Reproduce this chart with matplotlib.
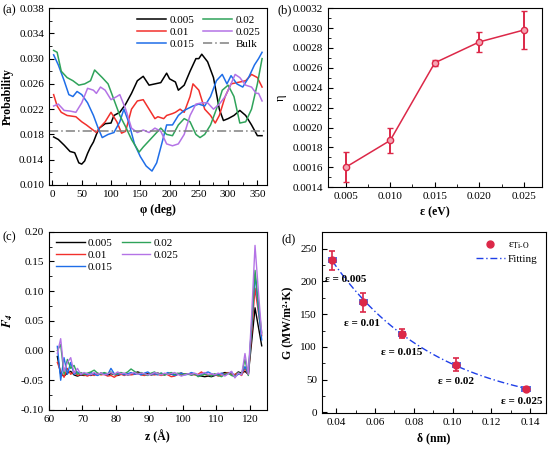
import numpy as np
import matplotlib
matplotlib.use('Agg')
import matplotlib.pyplot as plt
from matplotlib.ticker import AutoMinorLocator, MultipleLocator, FormatStrFormatter

plt.rcParams['font.family'] = ['Liberation Serif', 'DejaVu Serif']
plt.rcParams['mathtext.fontset'] = 'stix'
plt.rcParams['font.size'] = 8

# ---- (a) angular distribution ----
phi_005 = [2, 10, 20, 30, 38, 45, 50, 55, 60, 65, 70, 75, 80, 90, 100, 105, 115, 125, 135, 145,
           155, 165, 175, 185, 195, 200, 210, 215, 225, 235, 245, 250, 255, 265, 275, 280, 285, 292, 300, 310,
           320, 330, 340, 350, 358]
prob_005 = [0.0176, 0.0172, 0.0163, 0.0153, 0.0151, 0.0135, 0.0133, 0.0138, 0.0150, 0.0160,
            0.0168, 0.0180, 0.0190, 0.0197, 0.0198, 0.0210, 0.0215, 0.0228, 0.0245, 0.0265,
            0.0272, 0.0258, 0.0260, 0.0262, 0.0277, 0.0268, 0.0263, 0.0250, 0.0258, 0.0280,
            0.0300, 0.0300, 0.0307, 0.0295, 0.0270, 0.0245, 0.0220, 0.0202, 0.0205, 0.0210,
            0.0218, 0.0210, 0.0195, 0.0178, 0.0178]
phi_01 = [2, 8, 15, 25, 40, 50, 58, 65, 75, 80, 90, 100, 110, 118, 125, 135, 145, 155, 165, 175,
          180, 190, 195, 205, 210, 218, 225, 235, 240, 250, 260, 270, 278, 285, 295, 305, 320, 330, 340, 350, 358]
prob_01 = [0.0243, 0.0225, 0.0215, 0.0210, 0.0208, 0.0200, 0.0195, 0.0190, 0.0183, 0.0190,
           0.0200, 0.0215, 0.0200, 0.0182, 0.0185, 0.0220, 0.0233, 0.0235, 0.0220, 0.0205,
           0.0208, 0.0205, 0.0210, 0.0213, 0.0215, 0.0220, 0.0215, 0.0240, 0.0260, 0.0250,
           0.0220, 0.0210, 0.0198, 0.0210, 0.0240, 0.0260, 0.0263, 0.0265, 0.0275, 0.0270, 0.0255]
phi_015 = [2, 10, 20, 28, 35, 42, 50, 60, 70, 78, 85, 95, 105, 115, 122, 130, 140, 150, 160, 170,
           178, 188, 195, 205, 215, 225, 240, 250, 260, 270, 280, 290, 298, 305, 315, 325, 335, 345, 352, 358]
prob_015 = [0.0306, 0.0290, 0.0265, 0.0243, 0.0240, 0.0248, 0.0243, 0.0230, 0.0210, 0.0190,
            0.0175, 0.0180, 0.0183, 0.0200, 0.0220, 0.0200, 0.0165, 0.0145, 0.0130, 0.0122,
            0.0135, 0.0170, 0.0195, 0.0195, 0.0210, 0.0218, 0.0225, 0.0228, 0.0225, 0.0240,
            0.0265, 0.0275, 0.0260, 0.0273, 0.0260, 0.0255, 0.0270, 0.0290, 0.0300, 0.0310]
phi_02 = [2, 8, 15, 25, 35, 45, 55, 65, 72, 85, 95, 105, 115, 125, 135, 148, 155, 165, 180, 185,
          195, 205, 215, 225, 235, 245, 252, 260, 270, 280, 290, 300, 310, 320, 330, 340, 350, 358]
prob_02 = [0.0313, 0.0310, 0.0280, 0.0270, 0.0265, 0.0258, 0.0260, 0.0265, 0.0282, 0.0270,
           0.0260, 0.0235, 0.0210, 0.0192, 0.0172, 0.0152, 0.0160, 0.0170, 0.0185, 0.0190,
           0.0180, 0.0178, 0.0195, 0.0205, 0.0200, 0.0180, 0.0175, 0.0180, 0.0195, 0.0220,
           0.0250, 0.0258, 0.0240, 0.0198, 0.0200, 0.0220, 0.0260, 0.0300]
phi_025 = [2, 10, 20, 30, 40, 50, 60, 70, 75, 82, 90, 100, 110, 115, 125, 135, 145, 155, 165, 175,
           185, 195, 205, 215, 225, 235, 245, 255, 265, 275, 285, 295, 305, 312, 320, 330, 340, 348, 352, 358]
prob_025 = [0.0225, 0.0228, 0.0218, 0.0217, 0.0215, 0.0230, 0.0253, 0.0250, 0.0245, 0.0255,
            0.0250, 0.0235, 0.0240, 0.0243, 0.0220, 0.0190, 0.0183, 0.0187, 0.0183, 0.0190,
            0.0185, 0.0165, 0.0162, 0.0165, 0.0180, 0.0210, 0.0228, 0.0230, 0.0230, 0.0220,
            0.0228, 0.0240, 0.0260, 0.0275, 0.0270, 0.0258, 0.0255, 0.0245, 0.0245, 0.0233]
bulk = 0.0185
prob_ticks = [0.010, 0.014, 0.018, 0.022, 0.026, 0.030, 0.034, 0.038]

# ---- (b) eta vs epsilon ----
eps = [0.005, 0.010, 0.015, 0.020, 0.025]
eta = [0.00160, 0.00187, 0.00265, 0.00286, 0.00298]
eta_err = [0.00015, 0.00013, 0.00003, 0.00010, 0.00019]

# ---- (c) F4 profile ----
z = np.arange(62.5, 124.0, 1.0)
f4_005 = [-0.010, -0.040, -0.043, -0.038, -0.035, -0.041, -0.043, -0.041, -0.042, -0.040,
          -0.042, -0.039, -0.041, -0.038, -0.040, -0.041, -0.039, -0.040, -0.042, -0.040,
          -0.039, -0.041, -0.040, -0.038, -0.036, -0.038, -0.040, -0.039, -0.041, -0.040,
          -0.038, -0.040, -0.041, -0.039, -0.040, -0.041, -0.039, -0.038, -0.040, -0.039,
          -0.041, -0.040, -0.042, -0.043, -0.044, -0.043, -0.044, -0.042, -0.040, -0.039,
          -0.037, -0.038, -0.040, -0.041, -0.036, -0.038, -0.035, -0.040, 0.015, 0.072,
          0.040, 0.008]
f4_01 = [-0.020, -0.035, -0.045, -0.030, -0.040, -0.035, -0.042, -0.040, -0.041, -0.043,
         -0.040, -0.042, -0.038, -0.041, -0.040, -0.043, -0.042, -0.045, -0.041, -0.040,
         -0.042, -0.039, -0.041, -0.040, -0.038, -0.041, -0.042, -0.040, -0.039, -0.041,
         -0.040, -0.042, -0.039, -0.041, -0.044, -0.043, -0.040, -0.041, -0.039, -0.040,
         -0.038, -0.041, -0.040, -0.036, -0.040, -0.042, -0.041, -0.040, -0.043, -0.041,
         -0.039, -0.037, -0.041, -0.040, -0.038, -0.042, -0.030, -0.041, 0.030, 0.105,
         0.065, 0.025]
f4_015 = [0.007, -0.050, -0.012, -0.040, -0.020, -0.040, -0.036, -0.040, -0.038, -0.041,
          -0.037, -0.040, -0.042, -0.039, -0.038, -0.041, -0.030, -0.039, -0.040, -0.038,
          -0.041, -0.039, -0.037, -0.040, -0.039, -0.041, -0.038, -0.036, -0.040, -0.039,
          -0.041, -0.038, -0.040, -0.037, -0.039, -0.042, -0.040, -0.038, -0.041, -0.040,
          -0.037, -0.039, -0.041, -0.040, -0.038, -0.036, -0.039, -0.041, -0.040, -0.038,
          -0.041, -0.039, -0.036, -0.044, -0.040, -0.039, -0.027, -0.040, 0.040, 0.128,
          0.070, 0.018]
f4_02 = [0.000, 0.010, -0.040, -0.015, -0.030, -0.025, -0.040, -0.037, -0.040, -0.038,
         -0.036, -0.033, -0.038, -0.040, -0.037, -0.039, -0.036, -0.041, -0.038, -0.037,
         -0.039, -0.036, -0.031, -0.035, -0.039, -0.037, -0.040, -0.042, -0.038, -0.036,
         -0.040, -0.038, -0.041, -0.039, -0.037, -0.040, -0.038, -0.042, -0.039, -0.040,
         -0.041, -0.039, -0.044, -0.042, -0.040, -0.041, -0.043, -0.039, -0.042, -0.044,
         -0.040, -0.038, -0.042, -0.044, -0.037, -0.040, -0.015, -0.042, 0.045, 0.135,
         0.080, 0.030]
f4_025 = [-0.005, 0.020, -0.035, -0.020, -0.012, -0.038, -0.030, -0.040, -0.037, -0.039,
          -0.041, -0.037, -0.040, -0.038, -0.041, -0.039, -0.037, -0.040, -0.036, -0.039,
          -0.038, -0.041, -0.039, -0.037, -0.040, -0.038, -0.039, -0.041, -0.040, -0.037,
          -0.039, -0.041, -0.038, -0.040, -0.039, -0.037, -0.040, -0.043, -0.041, -0.039,
          -0.040, -0.038, -0.041, -0.039, -0.037, -0.040, -0.039, -0.041, -0.038, -0.040,
          -0.043, -0.039, -0.035, -0.046, -0.038, -0.041, -0.005, -0.040, 0.060, 0.177,
          0.100, 0.028]

# ---- (d) G vs delta ----
delta = [0.038, 0.054, 0.074, 0.102, 0.138]
delta_err = [0.0018, 0.0018, 0.0015, 0.0018, 0.0020]
G = [232, 168, 120, 73, 36]
G_err = [14, 14, 7, 10, 3]
eps_labels = ['ε = 0.005', 'ε = 0.01', 'ε = 0.015', 'ε = 0.02', 'ε = 0.025']
label_x = [0.045, 0.053, 0.074, 0.102, 0.1355]
label_y = [203, 136, 91, 47, 17]

black, red, green, blue, purple = 'black', '#f2302c', '#2fa35a', '#1f6ee8', '#b473e6'
crimson = '#dc2848'


def style(ax):
    ax.tick_params(which='both', direction='in', top=False, right=False, labelsize=8)
    ax.tick_params(which='major', length=3.5)
    ax.tick_params(which='minor', length=2)
    ax.xaxis.set_minor_locator(AutoMinorLocator(2))
    ax.yaxis.set_minor_locator(AutoMinorLocator(2))
    for s in ax.spines.values():
        s.set_linewidth(0.8)


fig = plt.figure(figsize=(5.5, 4.5), dpi=100)

# (a)
ax1 = fig.add_axes([0.089, 0.589, 0.396, 0.393])
lw = 1.1
ax1.plot(phi_005, prob_005, color=black, lw=lw, label='0.005')
ax1.plot(phi_01, prob_01, color=red, lw=lw, label='0.01')
ax1.plot(phi_015, prob_015, color=blue, lw=lw, label='0.015')
ax1.plot(phi_02, prob_02, color=green, lw=lw, label='0.02')
ax1.plot(phi_025, prob_025, color=purple, lw=lw, label='0.025')
ax1.axhline(bulk, color='gray', lw=1.1, ls=(0, (6, 2, 1, 2)), label='Bulk')
ax1.set_xlim(-6, 366)
ax1.set_ylim(0.010, 0.038)
ax1.xaxis.set_major_locator(MultipleLocator(50))
ax1.set_yticks(prob_ticks)
ax1.yaxis.set_major_formatter(FormatStrFormatter('%.3f'))
style(ax1)
ax1.set_xlabel('φ (deg)', fontweight='bold', fontsize=8.5)
ax1.set_ylabel('Probability', fontweight='bold', fontsize=8.5)
ax1.legend(ncol=2, frameon=False, loc='upper right', fontsize=8, handlelength=2.6,
           columnspacing=0.8, labelspacing=0.2, handletextpad=0.3, borderaxespad=0.2)

# (b)
ax2 = fig.add_axes([0.596, 0.584, 0.389, 0.398])
ax2.errorbar(eps, eta, yerr=eta_err, color=crimson, lw=1.1, marker='o', ms=4.5,
             mfc='#f6a5b4', mec=crimson, mew=1.0, capsize=2.5, elinewidth=1.4, capthick=1.4)
ax2.set_xlim(0.003, 0.027)
ax2.set_ylim(0.0014, 0.0032)
ax2.xaxis.set_major_locator(MultipleLocator(0.005))
ax2.yaxis.set_major_locator(MultipleLocator(0.0002))
ax2.xaxis.set_major_formatter(FormatStrFormatter('%.3f'))
ax2.yaxis.set_major_formatter(FormatStrFormatter('%.4f'))
style(ax2)
ax2.set_xlabel('ε (eV)', fontweight='bold', fontsize=8.5)
ax2.set_ylabel('η', fontsize=9)

# (c)
ax3 = fig.add_axes([0.089, 0.089, 0.396, 0.396])
lw3 = 1.0
ax3.plot(z, f4_005, color=black, lw=lw3, label='0.005')
ax3.plot(z, f4_01, color=red, lw=lw3, label='0.01')
ax3.plot(z, f4_015, color=blue, lw=lw3, label='0.015')
ax3.plot(z, f4_02, color=green, lw=lw3, label='0.02')
ax3.plot(z, f4_025, color=purple, lw=lw3, label='0.025')
ax3.set_xlim(60, 125)
ax3.set_ylim(-0.10, 0.20)
ax3.xaxis.set_major_locator(MultipleLocator(10))
ax3.yaxis.set_major_locator(MultipleLocator(0.05))
ax3.yaxis.set_major_formatter(FormatStrFormatter('%.2f'))
style(ax3)
ax3.set_xlabel('z (Å)', fontweight='bold', fontsize=8.5)
ax3.set_ylabel(r'$\mathbfit{F}_\mathbfit{4}$', fontsize=9)
ax3.legend(ncol=2, frameon=False, loc='upper left', fontsize=8, handlelength=2.6,
           columnspacing=0.8, labelspacing=0.2, handletextpad=0.3, borderaxespad=0.2)

# (d)
ax4 = fig.add_axes([0.585, 0.082, 0.407, 0.402])
coef = np.polyfit(delta, np.log(G), 1)
xf = np.linspace(min(delta), max(delta), 100)
ax4.plot(xf, np.exp(np.polyval(coef, xf)), color='#1f3fe8', lw=1.0, ls=(0, (5, 2, 1, 2)),
         label='Fitting', zorder=2)
ax4.errorbar(delta, G, xerr=delta_err, fmt='none', ecolor='#3050e0', elinewidth=1.4,
             capsize=2.5, capthick=1.2, zorder=3)
ax4.errorbar(delta, G, yerr=G_err, fmt='none', ecolor=crimson, elinewidth=1.2,
             capsize=2.5, capthick=1.2, zorder=3)
ax4.plot(delta, G, 'o', color=crimson, ms=5, mec=crimson, ls='none',
         label=r'ε$_{\mathrm{Ti\text{-}O}}$', zorder=4)
for tx, ty, t in zip(label_x, label_y, eps_labels):
    ax4.text(tx, ty, t, ha='center', va='center', fontsize=8, fontweight='bold')
ax4.set_xlim(0.0325, 0.148)
ax4.set_ylim(-1, 275)
ax4.xaxis.set_major_locator(MultipleLocator(0.02))
ax4.yaxis.set_major_locator(MultipleLocator(50))
ax4.xaxis.set_major_formatter(FormatStrFormatter('%.2f'))
style(ax4)
ax4.set_xlabel('δ (nm)', fontweight='bold', fontsize=8.5)
ax4.set_ylabel('G (MW/m²·K)', fontweight='bold', fontsize=8.5)
h, l = ax4.get_legend_handles_labels()
ax4.legend(h[::-1], l[::-1], frameon=False, loc='upper right', fontsize=8,
           handlelength=2.6, labelspacing=0.3, handletextpad=0.3, borderaxespad=0.3)

fig.text(0.004, 0.978, '(a)', fontsize=9, va='center')
fig.text(0.504, 0.978, '(b)', fontsize=9, va='center')
fig.text(0.004, 0.472, '(c)', fontsize=9, va='center')
fig.text(0.512, 0.468, '(d)', fontsize=9, va='center')

fig.savefig('out.png', dpi=100)
